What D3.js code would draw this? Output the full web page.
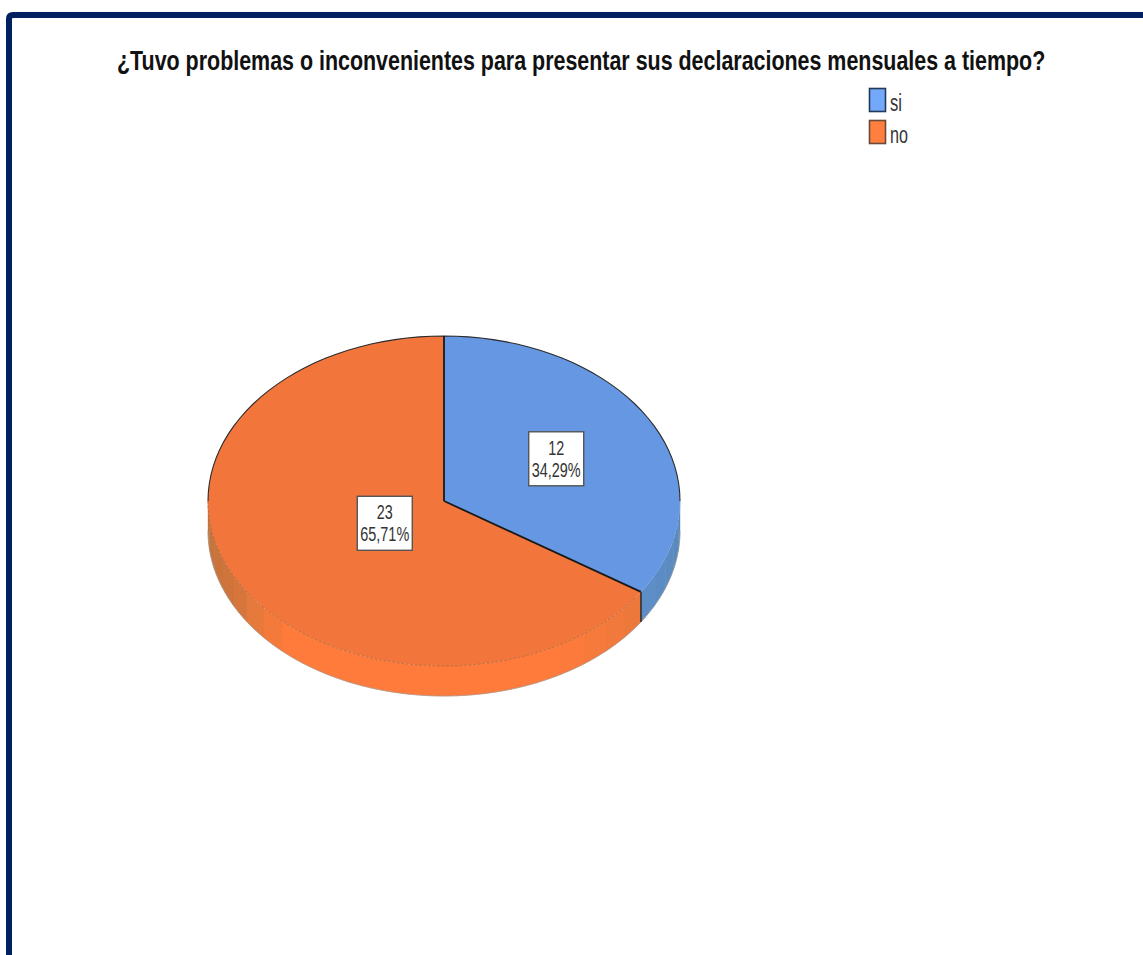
<!DOCTYPE html>
<html><head><meta charset="utf-8">
<script src="https://cdn.jsdelivr.net/npm/d3@7/dist/d3.min.js"></script>
<style>html,body{margin:0;padding:0;background:#fff;overflow:hidden}svg{display:block}
text{font-family:"Liberation Sans",Arial,sans-serif}</style></head>
<body><div id="c"></div>
<script>
const titleText = "¿Tuvo problemas o inconvenientes para presentar sus declaraciones mensuales a tiempo?";
const categories = ["si", "no"];
const counts = [12, 23];
const percentLabels = ["34,29%", "65,71%"];
const topColors = ["#6597e2", "#f2763c"];
const legendColors = ["#73a8fa", "#ff7f3f"];

const W = 1143, H = 955;
const cx = 444, cy = 501, rx = 236, ry = 165, depth = 30;
const labelRadius = [0.54, 0.285];
const svg = d3.select("#c").append("svg").attr("width", W).attr("height", H);

// places a text at (x,y) and squeezes it horizontally to the wanted width
function fit(sel, x, y, width, anchor) {
  sel.each(function () {
    const len = this.getComputedTextLength();
    const k = width / len;
    const shift = anchor === "middle" ? -width / 2 : 0;
    d3.select(this).attr("transform", `translate(${x + shift},${y}) scale(${k},1)`);
  });
}

// frame
svg.append("path").attr("fill", "none").attr("stroke", "#00205f").attr("stroke-width", 6)
  .attr("d", "M9,955V19Q9,15 13,15H1143");

// title
svg.append("text").attr("font-size", 27).attr("font-weight", 700).attr("fill", "#111")
  .text(titleText).call(fit, 117, 70, 929);

// legend
const legendY = d3.scalePoint().domain(categories).range([100, 132]);
const lg = svg.append("g").selectAll("g").data(categories).join("g")
  .attr("transform", d => `translate(869,${legendY(d)})`);
lg.append("rect").attr("x", 0.5).attr("y", -11.5).attr("width", 16).attr("height", 23)
  .attr("fill", (d, i) => legendColors[i]).attr("stroke", (d, i) => i ? "#6b4a38" : "#223a5a").attr("stroke-width", 1.6);
const legendWidths = [12, 18];
lg.append("text").attr("font-size", 24).attr("fill", "#333").text(d => d)
  .each(function (d, i) { d3.select(this).call(fit, 21, 11, legendWidths[i]); });

// pie
const pie = d3.pie().sort(null).value(d => d);
const slices = pie(counts);
const sx = d3.scaleLinear().domain([-1, 1]).range([cx - rx, cx + rx]);
const sy = d3.scaleLinear().domain([-1, 1]).range([cy - ry, cy + ry]);
const px = a => sx(Math.sin(a));
const py = a => sy(-Math.cos(a));

// side wall colour depends on where the band lies across the pie
const orangeSide = d3.scaleLinear()
  .domain([cx - rx, cx - rx + 30, cx - rx + 55, cx - rx + 80, cx + rx - 120, cx + rx - 75, cx + rx - 40])
  .range(["#c4733c", "#d6763c", "#ee7a3c", "#ff7b3c", "#ff7b3c", "#f47a3c", "#ea783c"]);
const blueSide = d3.scaleLinear()
  .domain([cx + rx - 40, cx + rx]).range(["#5e8fcb", "#5889bd"]);

const side = svg.append("g");
const front0 = Math.PI / 2, front1 = 3 * Math.PI / 2;
const bandStep = Math.PI / 26;
slices.forEach((s, idx) => {
  const from = Math.max(s.startAngle, front0), to = Math.min(s.endAngle, front1);
  const n = Math.ceil((to - from) / bandStep);
  d3.range(n).forEach(i => {
    const a0 = from + (to - from) * i / n;
    const a1 = from + (to - from) * (i + 1) / n + (i + 1 < n ? 0.004 : 0);
    const pts = d3.range(9).map(k => a0 + (a1 - a0) * k / 8);
    const upper = pts.map(a => [px(a), py(a)]);
    const lower = pts.slice().reverse().map(a => [px(a), py(a) + depth]);
    const xm = px((a0 + a1) / 2);
    const col = idx === 0 ? blueSide(xm) : orangeSide(xm);
    side.append("path").attr("d", d3.line()(upper.concat(lower)) + "Z")
      .attr("fill", col).attr("stroke", col).attr("stroke-width", 0.4);
  });
});
// outer silhouette of the wall
const wallAngles = d3.range(61).map(i => front0 + Math.PI * i / 60);
side.append("path").attr("fill", "none").attr("stroke", "#a09890").attr("stroke-width", 0.7)
  .attr("d", d3.line()(wallAngles.map(a => [px(a), py(a) + depth])));
// vertical edge under the cut
const cutA = slices[0].endAngle;
side.append("line").attr("x1", px(cutA)).attr("x2", px(cutA)).attr("y1", py(cutA)).attr("y2", py(cutA) + depth)
  .attr("stroke", "#222").attr("stroke-width", 1.4);

// top face
const arc = d3.arc().innerRadius(0).outerRadius(rx);
const topG = svg.append("g").attr("transform", `translate(${cx},${cy}) scale(1,${ry / rx})`);
topG.selectAll("path").data(slices).join("path")
  .attr("d", arc).attr("fill", (d, i) => topColors[i]);
// rim: dark on the back half, faint on the front of orange
const rimAngles = d3.range(61).map(i => -Math.PI / 2 + Math.PI * i / 60);
svg.append("path").attr("fill", "none").attr("stroke", "#2b2b2b").attr("stroke-width", 1.1)
  .attr("d", d3.line()(rimAngles.map(a => [px(a), py(a)])));
const frontAngles = wallAngles.filter(a => a >= cutA);
svg.append("path").attr("fill", "none").attr("stroke", "#b5683a").attr("stroke-width", 0.8)
  .attr("stroke-dasharray", "3 1.5")
  .attr("d", d3.line()(frontAngles.map(a => [px(a), py(a)])));
// slice separators
slices.forEach(s => {
  svg.append("line").attr("x1", cx).attr("y1", cy).attr("x2", px(s.startAngle)).attr("y2", py(s.startAngle))
    .attr("stroke", "#1a1a1a").attr("stroke-width", 1.8);
});

// value labels
const labels = svg.append("g").selectAll("g").data(slices).join("g")
  .attr("transform", (s, i) => {
    const m = (s.startAngle + s.endAngle) / 2;
    const r = labelRadius[i];
    return `translate(${sx(r * Math.sin(m))},${sy(-r * Math.cos(m))})`;
  });
labels.append("rect").attr("x", -27.5).attr("y", -27).attr("width", 55).attr("height", 54)
  .attr("fill", "#fff").attr("stroke", "#555").attr("stroke-width", 1.4);
labels.append("text").attr("font-size", 21).attr("fill", "#333")
  .text((s, i) => counts[i]).call(fit, 0, -4, 16, "middle");
labels.append("text").attr("font-size", 21).attr("fill", "#333")
  .text((s, i) => percentLabels[i]).call(fit, 0, 18, 49, "middle");
</script></body></html>
